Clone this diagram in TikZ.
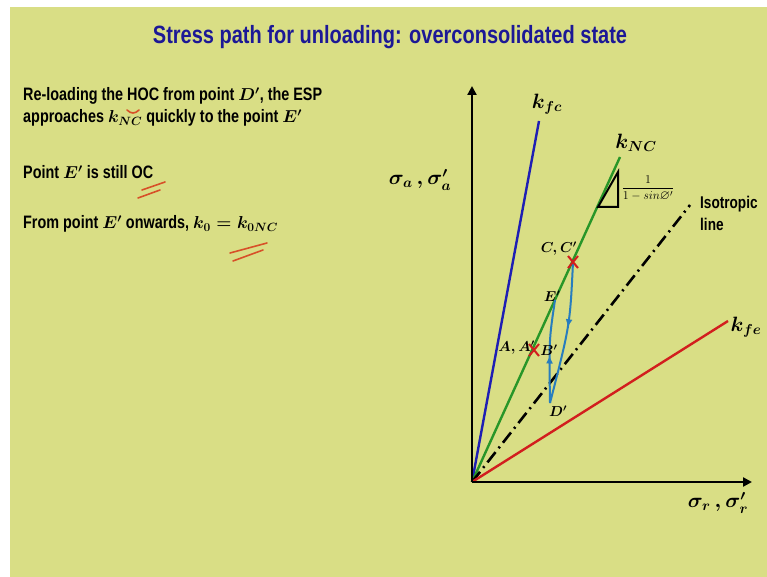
\documentclass[tikz,border=0pt]{standalone}
\usepackage{amsmath,amssymb}
\usepackage{fontspec}
\setmainfont{Liberation Sans}
\newfontfamily\narrowfont[FakeStretch=0.80]{Liberation Sans}
\newfontfamily\titlefont[FakeStretch=0.80]{Liberation Sans}
\usetikzlibrary{arrows.meta,decorations.markings,calc}
\definecolor{bgyellow}{RGB}{217,222,133}
\definecolor{titleblue}{RGB}{28,24,150}
\definecolor{kfcblue}{RGB}{30,30,180}
\definecolor{kncgreen}{RGB}{40,150,40}
\definecolor{kfered}{RGB}{210,30,30}
\definecolor{pathblue}{RGB}{40,125,190}
\definecolor{markred}{RGB}{215,80,40}
\tikzset{
  bodytext/.style={anchor=base west,inner sep=0pt,font=\boldmath\narrowfont\bfseries\fontsize{18}{20}\selectfont},
  axis/.style={line width=2.6pt,-{Triangle[length=9pt,width=9pt]}},
  kline/.style={line width=2.4pt},
  lbl/.style={inner sep=0pt,font=\boldmath\fontsize{20}{22}\selectfont},
  ptlbl/.style={inner sep=0pt,font=\boldmath\fontsize{14}{16}\selectfont},
  xmark/.style={draw=kfered,line width=2pt},
  pathseg/.style={draw=pathblue,line width=2pt},
  midarrow/.style={postaction={decorate},decoration={markings,mark=at position #1 with {\arrow{Triangle[length=7pt,width=6pt]}}}},
  handmark/.style={draw=markred,line width=1.6pt,line cap=round},
}
\begin{document}
\begin{tikzpicture}[x=1pt,y=-1pt]
\useasboundingbox (0,0) rectangle (767,577);
\fill[white] (0,0) rectangle (767,577);
\fill[bgyellow] (10,7) rectangle (767,577);
% title
\node[inner sep=0pt,text=titleblue,font=\titlefont\bfseries\fontsize{25}{27}\selectfont] (title) at (390,37) {Stress path for unloading: overconsolidated state};
% body text
\node[bodytext] (t1) at (23,101) {Re-loading the HOC from point $D'$, the ESP};
\node[bodytext] (t2) at (23,123) {approaches $k_{NC}$ quickly to the point $E'$};
\node[bodytext] (t3) at (23,179) {Point $E'$ is still OC};
\node[bodytext] (t4) at (23,229) {From point $E'$ onwards, $k_0=k_{0NC}$};
% hand marks
\draw[handmark] (127,110) .. controls (131,114) and (135,114) .. (139,110);
\draw[handmark] (142,190) -- (165,182);
\draw[handmark] (138,198) -- (160,190);
\draw[handmark] (230,253) -- (267,243);
\draw[handmark] (233,261) -- (263,250);
% axes
\coordinate (O) at (472,482);
\coordinate (ytop) at (472,86);
\coordinate (xend) at (752,482);
\coordinate (kfcend) at (539,121);
\coordinate (kncend) at (620,157);
\coordinate (isoend) at (690,205);
\coordinate (kfeend) at (728,321);
\draw[kline,kfcblue] (O) -- (kfcend);
\draw[kline,kncgreen] (O) -- (kncend);
\draw[line width=2.6pt,dash pattern=on 13pt off 5pt on 2pt off 5pt] (O) -- (isoend);
\draw[kline,kfered] (O) -- (kfeend);
\draw[axis] (O) -- (ytop);
\draw[axis] (O) -- (xend);
% triangle
\draw[line width=2pt,line join=miter] (598,207) -- (618,207) -- (618,172) -- cycle;
\node[inner sep=0pt,font=\fontsize{13}{15}\selectfont] (fr) at (648,188) {$\displaystyle\frac{1}{1-sin\varnothing'}$};
% labels
\node[lbl] (lkfc) at (547,104) {$k_{fc}$};
\node[lbl] (lknc) at (636,143) {$k_{NC}$};
\node[lbl] (lkfe) at (746,327) {$k_{fe}$};
\node[lbl] (lsa) at (420,180) {$\sigma_a\,,\sigma'_a$};
\node[lbl] (lsr) at (718,503) {$\sigma_r\,,\sigma'_r$};
\node[inner sep=0pt,anchor=west,align=left,font=\narrowfont\bfseries\fontsize{17}{22}\selectfont] (iso) at (700,213) {Isotropic\\line};
% points
\coordinate (C) at (573,262);
\coordinate (E) at (555,300);
\coordinate (A) at (534,350);
\coordinate (D) at (550,403);
\draw[pathseg,midarrow=0.45] (C) .. controls (570,325) .. (D);
\draw[pathseg,midarrow=0.45] (D) .. controls (549,340) .. (E);
\draw[xmark] ($(C)+(-5,-6)$) -- ($(C)+(5,6)$) ($(C)+(5,-6)$) -- ($(C)+(-5,6)$);
\draw[xmark] ($(A)+(-5,-6)$) -- ($(A)+(5,6)$) ($(A)+(5,-6)$) -- ($(A)+(-5,6)$);
\node[ptlbl,anchor=east] (lC) at (577,249) {$C,C'$};
\node[ptlbl] (lE) at (552,296) {$E'$};
\node[ptlbl,anchor=east] (lA) at (535,348) {$A,A'$};
\node[ptlbl] (lB) at (549,350) {$B'$};
\node[ptlbl] (lD) at (558,411) {$D'$};
\end{tikzpicture}
\end{document}
